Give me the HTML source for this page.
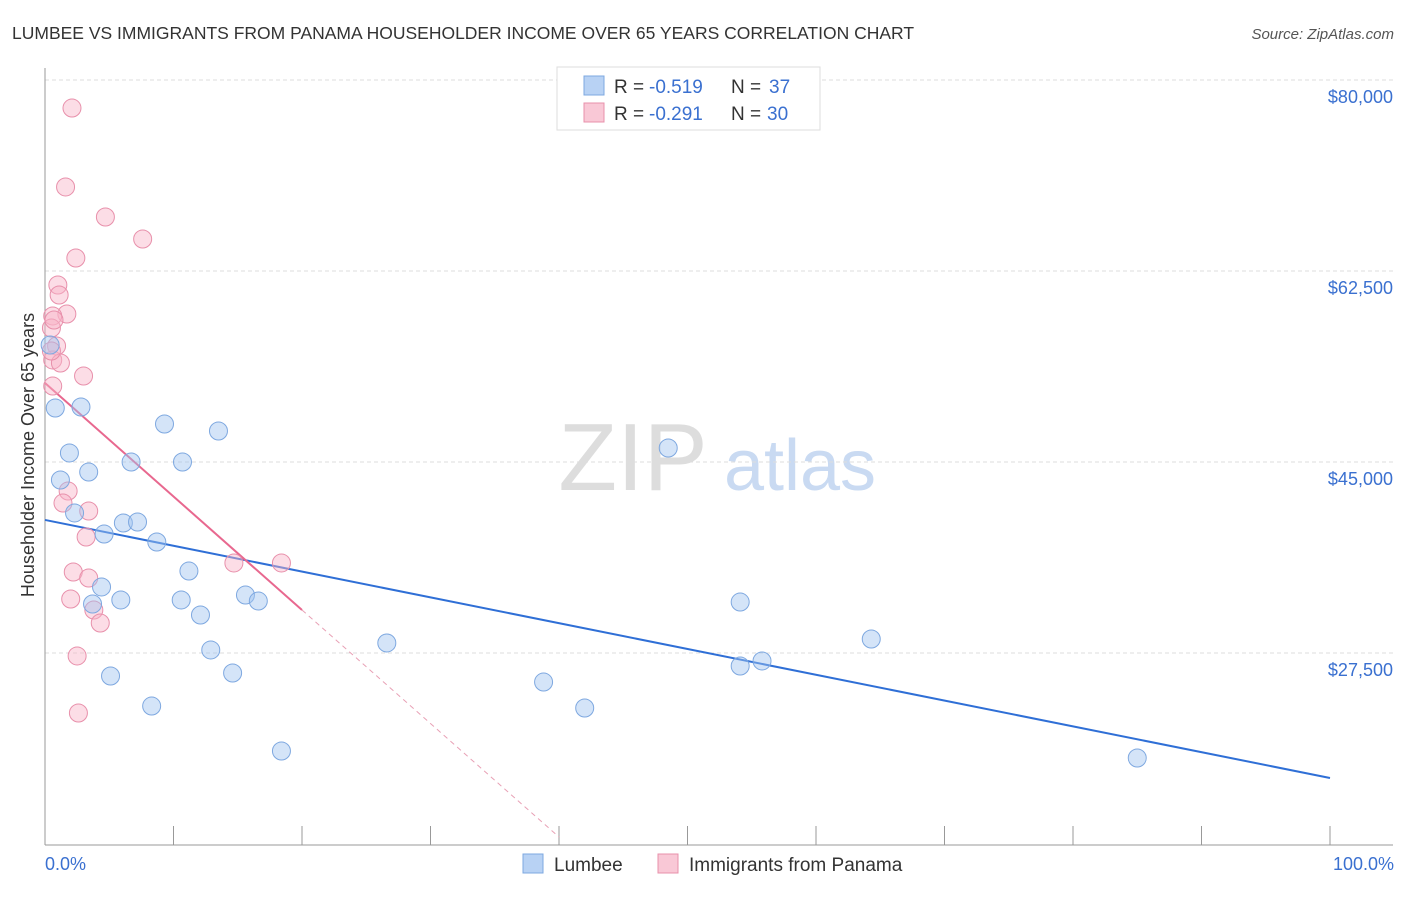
<!DOCTYPE html>
<html><head><meta charset="utf-8"><style>
body{margin:0;background:#fff;font-family:"Liberation Sans",sans-serif;}
svg text{font-family:"Liberation Sans",sans-serif;}
</style></head><body>
<svg id="c" width="1406" height="892" xmlns="http://www.w3.org/2000/svg">
<text x="12" y="39" font-size="17.5" fill="#333">LUMBEE VS IMMIGRANTS FROM PANAMA HOUSEHOLDER INCOME OVER 65 YEARS CORRELATION CHART</text>
<text x="1394" y="39" font-size="15" fill="#555" font-style="italic" text-anchor="end">Source: ZipAtlas.com</text>
<text x="633" y="490" font-size="96" fill="#ddd" font-family="Liberation Serif" text-anchor="middle">ZIP</text>
<text x="800" y="490" font-size="72" fill="#c9daf2" text-anchor="middle">atlas</text>
<g id="grid"></g><g id="axes"></g><g id="trend"></g><g id="dots"></g>
<text transform="translate(34,455) rotate(-90)" font-size="18" fill="#333" text-anchor="middle">Householder Income Over 65 years</text>
<text x="45" y="870" font-size="18" fill="#3a70d0">0.0%</text>
<text x="1394" y="870" font-size="18" fill="#3a70d0" text-anchor="end">100.0%</text>
<g>
<rect x="557" y="67" width="263" height="63" fill="#fff" stroke="#ddd"/>
<rect x="584" y="76" width="20" height="19" fill="#b8d2f4" stroke="#7ea8e0"/>
<rect x="584" y="103" width="20" height="19" fill="#f9c8d6" stroke="#e890ab"/>
<text x="614" y="93" font-size="19" fill="#333">R =</text>
<text x="649" y="93" font-size="19" fill="#3a70d0">-0.519</text>
<text x="731" y="93" font-size="19" fill="#333">N =</text>
<text x="769" y="93" font-size="19" fill="#3a70d0">37</text>
<text x="614" y="120" font-size="19" fill="#333">R =</text>
<text x="649" y="120" font-size="19" fill="#3a70d0">-0.291</text>
<text x="731" y="120" font-size="19" fill="#333">N =</text>
<text x="767" y="120" font-size="19" fill="#3a70d0">30</text>
</g>
<g>
<rect x="523" y="854" width="20" height="19" fill="#b8d2f4" stroke="#7ea8e0"/>
<text x="554" y="871" font-size="19" fill="#333">Lumbee</text>
<rect x="658" y="854" width="20" height="19" fill="#f9c8d6" stroke="#e890ab"/>
<text x="689" y="871" font-size="19" fill="#333">Immigrants from Panama</text>
</g>
</svg>
<script>
const yTicks=[80000,62500,45000,27500];
const yTickLabels=["$80,000","$62,500","$45,000","$27,500"];
const lumbeeX=[0.4,0.8,2.8,1.9,1.2,3.4,2.3,4.6,6.7,9.3,10.7,13.5,6.1,7.2,8.7,11.2,4.4,3.7,5.9,10.6,12.1,12.9,15.6,16.6,5.1,8.3,14.6,18.4,26.6,38.8,42.0,48.5,54.1,54.1,55.8,64.3,85.0];
const lumbeeY=[55720,49950,50040,45830,43350,44080,40330,38400,45000,48480,45000,47840,39410,39500,37670,35010,33550,31990,32360,32360,30980,27780,32810,32260,25390,22640,25670,18520,28420,24840,22460,46280,32170,26310,26770,28780,17880];
const panamaX=[2.1,1.6,4.7,7.6,2.4,1.0,1.1,1.7,0.6,0.5,0.9,0.6,1.2,3.0,0.6,1.8,1.4,3.4,3.2,2.2,3.4,2.0,3.8,4.3,2.5,2.6,14.7,18.4,0.5,0.7];
const panamaY=[77430,70200,67450,65430,63690,61220,60300,58560,58380,57280,55630,54350,54070,52880,51960,42340,41240,40510,38130,34920,34370,32450,31440,30250,27230,22000,35750,35750,55170,58010];
const lumbeeTrend=[39690,16050];
const panamaTrend=[52240,31440];
const NS="http://www.w3.org/2000/svg";
const xs=p=>45+p*12.85;
const ys=v=>80+(80000-v)*191/17500;
function mk(t,a,parent){const e=document.createElementNS(NS,t);for(const k in a)e.setAttribute(k,a[k]);document.getElementById(parent).appendChild(e);return e;}
yTicks.forEach((v,i)=>{
 const l=mk('line',{x1:45,x2:1393,y1:ys(v),y2:ys(v),stroke:'#ddd','stroke-dasharray':'4,3'},'grid');
 
 
 const t=mk('text',{x:1393,y:ys(v)+23,'font-size':18,fill:'#3a70d0','text-anchor':'end'},'grid');
 t.textContent=yTickLabels[i];
 
 
});
const ax=mk('line',{x1:45,x2:45,y1:68,y2:845,stroke:'#999'},'axes');


const bx=mk('line',{x1:45,x2:1393,y1:845,y2:845,stroke:'#999'},'axes');


for(let p=0;p<=100;p+=10){
 const t=mk('line',{x1:xs(p),x2:xs(p),y1:826,y2:845,stroke:'#999'},'axes');
 
 
}
const slopeP=(panamaTrend[1]-panamaTrend[0])/20;
let l1=mk('line',{x1:xs(0),y1:ys(lumbeeTrend[0]),x2:xs(100),y2:ys(lumbeeTrend[1]),stroke:'#2f6fd6','stroke-width':2},'trend');


let l2=mk('line',{x1:xs(0),y1:ys(panamaTrend[0]),x2:xs(20),y2:ys(panamaTrend[1]),stroke:'#e8688f','stroke-width':2},'trend');


let l3=mk('line',{x1:xs(20),y1:ys(panamaTrend[1]),x2:xs(40),y2:ys(panamaTrend[0]+slopeP*40),stroke:'#e8a0b5','stroke-width':1,'stroke-dasharray':'5,4'},'trend');


panamaX.forEach((x,i)=>{
 const c=mk('circle',{cx:xs(x),cy:ys(panamaY[i]),r:9,fill:'rgba(248,180,200,0.45)',stroke:'#e890ab','stroke-width':1},'dots');
 
 
});
lumbeeX.forEach((x,i)=>{
 const c=mk('circle',{cx:xs(x),cy:ys(lumbeeY[i]),r:9,fill:'rgba(160,196,240,0.45)',stroke:'#7ea8e0','stroke-width':1},'dots');
 
 
});
</script>
</body></html>
